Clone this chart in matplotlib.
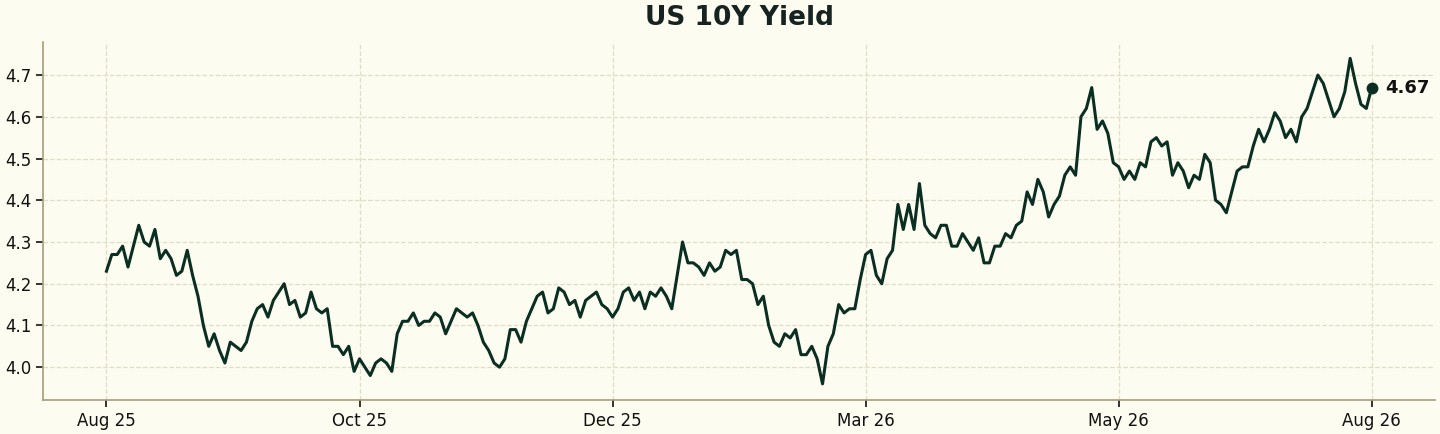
import matplotlib
matplotlib.use("Agg")
import matplotlib.pyplot as plt
import numpy as np

# daily closes
yields = [
    4.23, 4.27, 4.27, 4.29, 4.24, 4.29, 4.34, 4.30, 4.29, 4.33,
    4.26, 4.28, 4.26, 4.22, 4.23, 4.28, 4.22, 4.17, 4.10, 4.05,
    4.08, 4.04, 4.01, 4.06, 4.05, 4.04, 4.06, 4.11, 4.14, 4.15,
    4.12, 4.16, 4.18, 4.20, 4.15, 4.16, 4.12,
    4.13, 4.18, 4.14, 4.13, 4.14, 4.05, 4.05, 4.03, 4.05, 3.99,
    4.02, 4.00, 3.98, 4.01, 4.02, 4.01, 3.99, 4.08, 4.11, 4.11,
    4.13, 4.10, 4.11, 4.11, 4.13, 4.12, 4.08, 4.11, 4.14, 4.13,
    4.12, 4.13, 4.10, 4.06, 4.04, 4.01, 4.00, 4.02, 4.09, 4.09,
    4.06,
    4.11, 4.14, 4.17, 4.18, 4.13, 4.14, 4.19, 4.18, 4.15, 4.16,
    4.12, 4.16, 4.17, 4.18, 4.15, 4.14, 4.12, 4.14, 4.18, 4.19,
    4.16, 4.18, 4.14, 4.18, 4.17, 4.19, 4.17, 4.14, 4.22, 4.30,
    4.25, 4.25, 4.24, 4.22, 4.25, 4.23, 4.24, 4.28,
    4.27, 4.28, 4.21, 4.21, 4.20, 4.15, 4.17, 4.10, 4.06, 4.05,
    4.08, 4.07, 4.09, 4.03, 4.03, 4.05, 4.02, 3.96, 4.05, 4.08,
    4.15, 4.13, 4.14, 4.14, 4.21, 4.27, 4.28, 4.22, 4.20, 4.26,
    4.28, 4.39, 4.33, 4.39, 4.33, 4.44, 4.34, 4.32, 4.31, 4.34,
    4.34, 4.29, 4.29, 4.32, 4.30, 4.28, 4.31, 4.25, 4.25, 4.29,
    4.29, 4.32, 4.31, 4.34, 4.35, 4.42, 4.39, 4.45, 4.42, 4.36,
    4.39, 4.41, 4.46, 4.48, 4.46, 4.60, 4.62, 4.67, 4.57, 4.59,
    4.56, 4.49, 4.48, 4.45, 4.47, 4.45, 4.49, 4.48, 4.54,
    4.55, 4.53, 4.54, 4.46, 4.49, 4.47, 4.43, 4.46, 4.45, 4.51,
    4.49, 4.40, 4.39, 4.37, 4.42, 4.47, 4.48, 4.48, 4.53, 4.57,
    4.54, 4.57, 4.61, 4.59, 4.55, 4.57, 4.54, 4.60, 4.62, 4.66,
    4.70, 4.68, 4.64, 4.60, 4.62, 4.66, 4.74, 4.68, 4.63, 4.62,
    4.67,
]
tick_labels = ["Aug 25", "Oct 25", "Dec 25", "Mar 26", "May 26", "Aug 26"]
title = "US 10Y Yield"

bg = "#fcfcf0"
line_color = "#0b2e22"
spine_color = "#a59d7a"
grid_color = "#e2ddc6"

x = np.arange(len(yields))

fig = plt.figure(figsize=(14.4, 4.34), dpi=100, facecolor=bg)
ax = fig.add_axes([0.030, 0.078, 0.9665, 0.825])
ax.set_facecolor(bg)

ax.plot(x, yields, color=line_color, linewidth=2.2, zorder=3)

# last value marker + label
ax.plot(x[-1], yields[-1], "o", color=line_color, markersize=7.5, zorder=4)
ax.annotate("{:.2f}".format(yields[-1]), (x[-1], yields[-1]),
            xytext=(10, 0), textcoords="offset points",
            va="center", ha="left", fontsize=13, fontweight="bold",
            color="#111111")

ax.set_xticks(np.linspace(0, len(yields) - 1, len(tick_labels)))
ax.set_xticklabels(tick_labels)
ax.set_yticks([4.0, 4.1, 4.2, 4.3, 4.4, 4.5, 4.6, 4.7])
ax.margins(x=0.05, y=0.05)

ax.grid(True, linestyle="--", color=grid_color, linewidth=0.9)
ax.set_axisbelow(True)

for side in ["top", "right"]:
    ax.spines[side].set_visible(False)
for side in ["left", "bottom"]:
    ax.spines[side].set_color(spine_color)
    ax.spines[side].set_linewidth(1.2)

ax.tick_params(axis="both", labelsize=12, colors="#111111", length=5, width=1.2)

ax.set_title(title, fontsize=19, fontweight="bold", color="#162320", pad=12)

fig.savefig("out.png", dpi=100, facecolor=bg)
